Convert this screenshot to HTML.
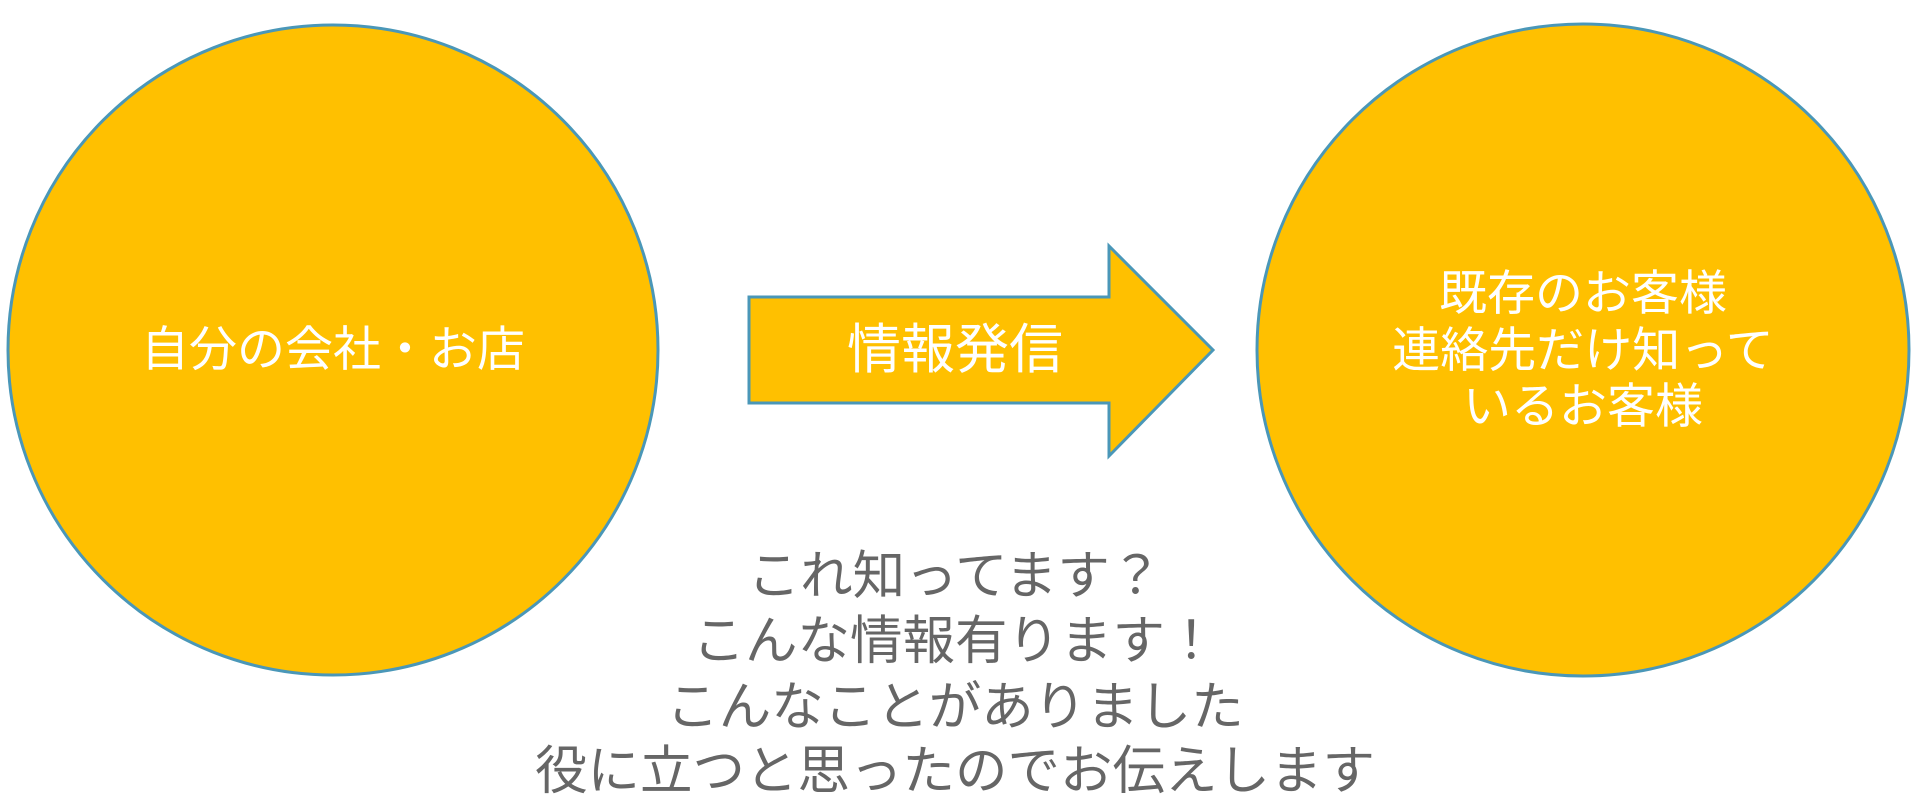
<!DOCTYPE html>
<html><head><meta charset="utf-8"><style>
html,body{margin:0;padding:0;background:#fff;width:1926px;height:800px;overflow:hidden}
svg{display:block}
text{font-family:"Liberation Sans","Noto Sans CJK JP",sans-serif}
</style></head><body>
<svg width="1926" height="800" viewBox="0 0 1926 800">
<circle cx="333" cy="350" r="325" fill="#FFC000" stroke="#4A97B8" stroke-width="3"/>
<circle cx="1583" cy="350" r="326" fill="#FFC000" stroke="#4A97B8" stroke-width="3"/>
<polygon points="749,297 1109,297 1109,246 1213,350 1109,456 1109,403 749,403" fill="#FFC000" stroke="#4A97B8" stroke-width="3"/>
<g fill="#fff" text-anchor="middle" dominant-baseline="central">
<text x="333" y="350" font-size="48">自分の会社・お店</text>
<text x="955" y="350" font-size="54">情報発信</text>
<text x="1583" y="294" font-size="48">既存のお客様</text>
<text x="1583" y="351" font-size="48">連絡先だけ知って</text>
<text x="1583" y="407" font-size="48">いるお客様</text>
</g>
<g fill="#666" text-anchor="middle" dominant-baseline="central" font-size="52.5">
<text x="955" y="576">これ知ってます？</text>
<text x="955" y="641">こんな情報有ります！</text>
<text x="955" y="707">こんなことがありました</text>
<text x="955" y="771">役に立つと思ったのでお伝えします</text>
</g>
</svg>
</body></html>
